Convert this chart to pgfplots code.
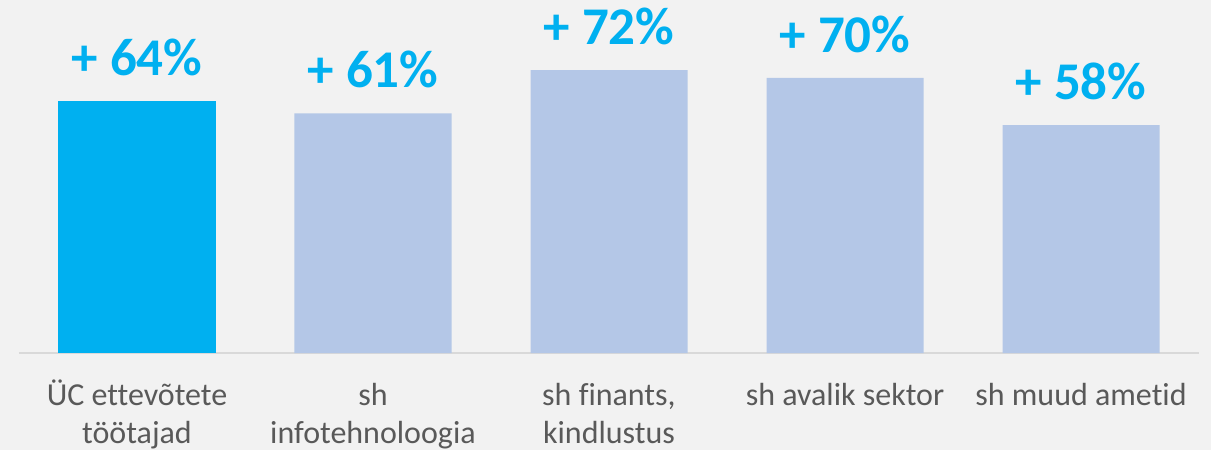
\documentclass[border=0pt]{standalone}
\usepackage{pgfplots}
\pgfplotsset{compat=1.18}
\usepackage{fontspec}
\setmainfont{Carlito}[Ligatures=NoCommon]
\definecolor{bg}{HTML}{F2F2F2}
\definecolor{main}{HTML}{00B0F0}
\definecolor{sec}{HTML}{B4C7E7}
\definecolor{axl}{HTML}{D9D9D9}
\definecolor{lab}{HTML}{595959}
\newcommand{\st}{\rule{0pt}{13.5pt}}
\begin{document}
\begin{tikzpicture}
\fill[bg] (0,0) rectangle (605.5pt,225pt);
\useasboundingbox (0,0) rectangle (605.5pt,225pt);
\begin{axis}[
  at={(9.5pt,48.5pt)}, anchor=south west,
  scale only axis, width=590pt, height=176.5pt,
  xmin=-0.5, xmax=4.5, ymin=0, ymax=89.82,
  axis x line*=bottom, axis y line=none,
  x axis line style={axl, line width=1pt, -},
  xtick={0,1,2,3,4},
  xticklabels={{\st ÜC ettevõtete\\töötajad},{\st sh\\infotehnoloogia},{\st sh finants,\\kindlustus},{\st sh avalik sektor},{\st sh muud ametid}},
  major tick length=0pt,
  xticklabel style={font=\fontsize{16}{19}\selectfont, text=lab, align=center, anchor=north, inner sep=0pt, yshift=-12.5pt},
  ybar, bar width=78.5pt, bar shift=0pt,
  clip=false,
  point meta=explicit symbolic,
  nodes near coords={+ \pgfplotspointmeta\%},
  nodes near coords style={font=\fontsize{26.5}{30}\selectfont\bfseries, text=main, anchor=base, inner sep=0pt, yshift=12.8pt},
]
\addplot[fill=main, draw=none] coordinates {(0,64) [64]};
\addplot[fill=sec, draw=none] coordinates {(1,61) [61] (2,72) [72] (3,70) [70] (4,58) [58]};
\end{axis}
\end{tikzpicture}
\end{document}
